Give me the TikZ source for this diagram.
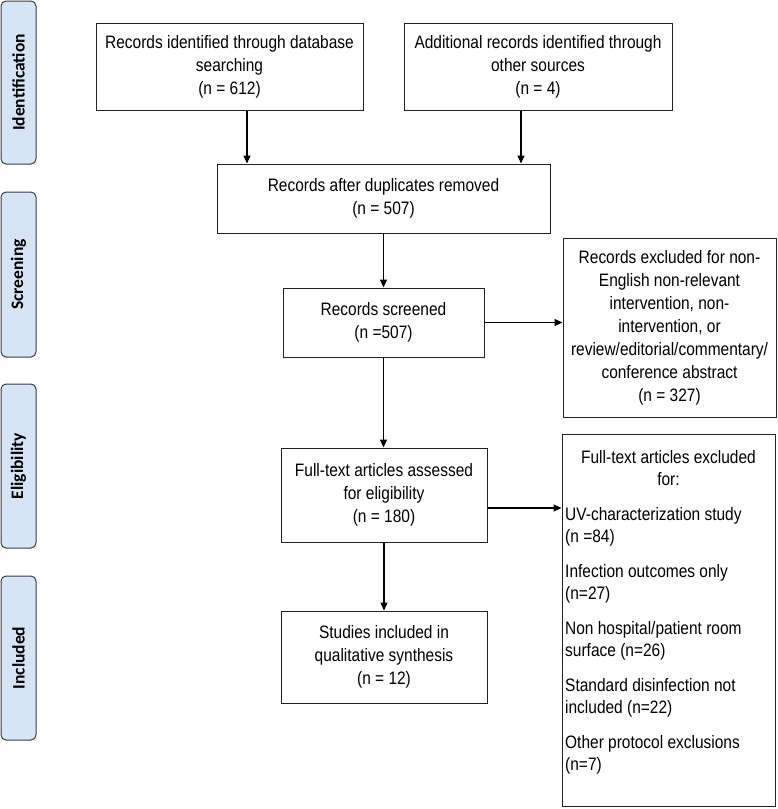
\documentclass[tikz,border=0pt]{standalone}
\usepackage{fontspec}
\setmainfont{Liberation Sans}
\newfontfamily\boxfont[FakeStretch=0.86]{Liberation Sans}
\newfontfamily\phasefont{Carlito}
\usetikzlibrary{arrows.meta}
\definecolor{phasefill}{RGB}{214,228,245}
\definecolor{phaseline}{RGB}{60,60,60}
\definecolor{boxline}{RGB}{35,35,35}
\begin{document}
\begin{tikzpicture}[x=1pt,y=-1pt,
  phase/.style={draw=phaseline, fill=phasefill, rounded corners=5pt, line width=1pt, rotate=90, minimum height=35pt, inner sep=0pt, font=\phasefont\bfseries\fontsize{17.5}{20}\selectfont},
  box/.style={draw=boxline, line width=1pt, align=center, inner sep=0pt, font=\boxfont\fontsize{18}{23}\selectfont},
  plain/.style={inner sep=0pt, font=\boxfont\fontsize{18}{22}\selectfont},
  arr/.style={-{Triangle[length=8pt,width=7pt]}, line width=1.2pt, draw=black}]
\useasboundingbox (0,0) rectangle (777,809);
% phase labels
\node[phase, minimum width=163pt] (pid) at (18.5,82.5) {Identification};
\node[phase, minimum width=165pt] (psc) at (18.5,274.5) {Screening};
\node[phase, minimum width=164pt] (pel) at (18.5,466) {Eligibility};
\node[phase, minimum width=164pt] (pin) at (18.5,658) {Included};
% boxes
\node[box, minimum width=267pt, minimum height=87pt] (A) at (229.5,66.5) {Records identified through database\\searching\\(n = 612)};
\node[box, minimum width=268pt, minimum height=87pt] (B) at (538,66.5) {Additional records identified through\\other sources\\(n = 4)};
\node[box, minimum width=333pt, minimum height=69pt] (C) at (383.5,198.5) {Records after duplicates removed\\(n = 507)};
\node[box, minimum width=201pt, minimum height=69pt] (D) at (383.5,322.5) {Records screened\\(n =507)};
\node[box, minimum width=213pt, minimum height=179pt] (E) at (669.5,327.5) {Records excluded for non-\\English non-relevant\\intervention, non-\\intervention, or\\review/editorial/commentary/\\conference abstract\\(n = 327)};
\node[box, minimum width=206pt, minimum height=94pt] (G) at (384,495) {Full-text articles assessed\\for eligibility\\(n = 180)};
\node[box, minimum width=206pt, minimum height=92pt] (H) at (384,657) {Studies included in\\qualitative synthesis\\(n = 12)};
\node[box, minimum width=213pt, minimum height=372pt] (F) at (668.5,620) {};
\node[plain, align=center] (Fhead) at (668.5,468.5) {Full-text articles excluded\\for:};
\node[plain, align=left, anchor=north west] (Flist) at (565,507) {UV-characterization study\\(n =84)\\[13pt]Infection outcomes only\\(n=27)\\[13pt]Non hospital/patient room\\surface (n=26)\\[13pt]Standard disinfection not\\included (n=22)\\[13pt]Other protocol exclusions\\(n=7)};
% connector guides
\coordinate (ax) at (247,0);
\coordinate (bx) at (521,0);
\coordinate (gy) at (0,508);
% connectors
\draw[arr] (A.south -| ax) -- (C.north -| ax);
\draw[arr] (B.south -| bx) -- (C.north -| bx);
\draw[arr] (C.south) -- (D.north);
\draw[arr] (D.east) -- (D.east -| E.west);
\draw[arr] (D.south) -- (D.south |- G.north);
\draw[arr] (G.east |- gy) -- (F.west |- gy);
\draw[arr] (G.south) -- (G.south |- H.north);
\end{tikzpicture}
\end{document}
